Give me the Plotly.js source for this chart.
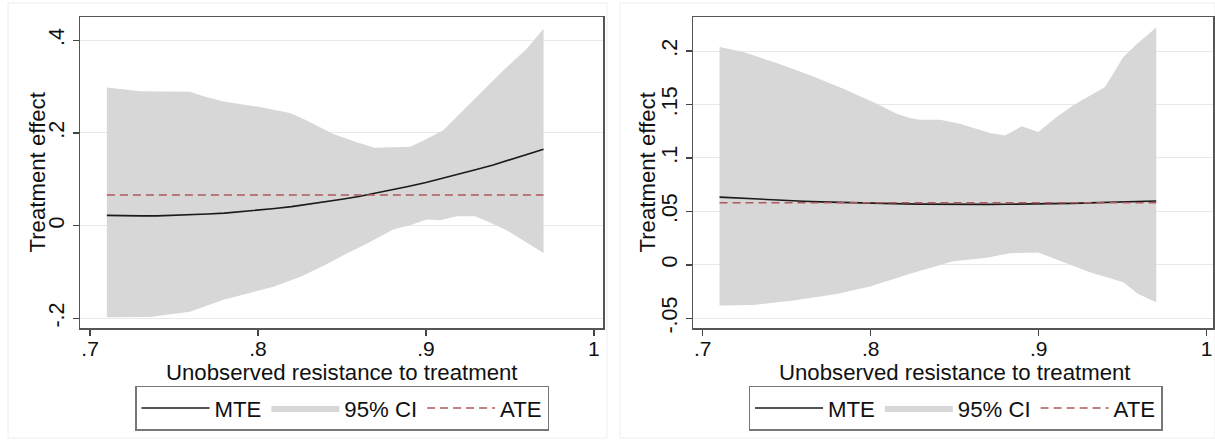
<!DOCTYPE html>
<html>
<head>
<meta charset="utf-8">
<script src="https://cdn.plot.ly/plotly-3.0.1.min.js"></script>
<style>html,body{margin:0;padding:0;background:#fff;}#chart{width:1215px;height:440px;}</style>
</head>
<body>
<div id="chart"></div>
<script>
// ---------- Data ----------
const xTickVals = [0.7, 0.8, 0.9, 1];
const xTickText = ['.7', '.8', '.9', '1'];
const yTickValsL = [-0.2, 0, 0.2, 0.4];
const yTickTextL = ['-.2', '0', '.2', '.4'];
const yTickValsR = [-0.05, 0, 0.05, 0.1, 0.15, 0.2];
const yTickTextR = ['-.05', '0', '.05', '.1', '.15', '.2'];
const xTitle = 'Unobserved resistance to treatment';
const yTitle = 'Treatment effect';

const mteX = [0.71,0.72,0.73,0.74,0.75,0.76,0.77,0.78,0.79,0.80,0.81,0.82,0.83,0.84,0.85,0.86,0.87,0.88,0.89,0.90,0.91,0.92,0.93,0.94,0.95,0.96,0.97];

// Left panel
const mteLeft = [0.022,0.021,0.021,0.021,0.022,0.023,0.025,0.027,0.030,0.033,0.037,0.041,0.046,0.051,0.057,0.063,0.070,0.077,0.085,0.093,0.102,0.111,0.121,0.131,0.142,0.153,0.165];
const ateLeftX = [0.71, 0.97];
const ateLeft = [0.066, 0.066];
const ciUpLeftX = [0.71,0.73,0.7595,0.7675,0.7794,0.8012,0.819,0.829,0.8448,0.8588,0.8696,0.8905,0.8984,0.9103,0.9222,0.9341,0.946,0.960,0.97];
const ciUpLeft  = [0.298,0.290,0.289,0.279,0.268,0.256,0.243,0.227,0.198,0.180,0.168,0.170,0.183,0.206,0.249,0.292,0.335,0.382,0.425];
const ciLoLeftX = [0.71,0.7357,0.7595,0.7794,0.7933,0.8091,0.825,0.8409,0.8528,0.8647,0.8805,0.8905,0.9004,0.9083,0.9183,0.9292,0.9361,0.948,0.960,0.97];
const ciLoLeft  = [-0.198,-0.197,-0.186,-0.160,-0.147,-0.132,-0.111,-0.0835,-0.060,-0.039,-0.0086,0.0006,0.013,0.0114,0.020,0.020,0.010,-0.010,-0.0375,-0.059];

// Right panel
const mteRight = [0.0633,0.0624,0.0616,0.0608,0.0601,0.0595,0.0589,0.0584,0.0580,0.0576,0.0573,0.0570,0.0568,0.0566,0.0565,0.0565,0.0565,0.0566,0.0567,0.0569,0.0572,0.0575,0.0579,0.0583,0.0587,0.0592,0.0597];
const ateRightX = [0.71, 0.97];
const ateRight = [0.058, 0.058];
const ciUpRightX = [0.71,0.7242,0.744,0.7639,0.7837,0.8036,0.8155,0.8234,0.8293,0.8413,0.8532,0.871,0.880,0.8899,0.8998,0.9107,0.9206,0.9305,0.9395,0.9504,0.9583,0.97];
const ciUpRight  = [0.2037,0.199,0.1888,0.1772,0.1648,0.1507,0.1414,0.1373,0.1358,0.1358,0.132,0.1232,0.121,0.1295,0.1242,0.1382,0.1492,0.1585,0.1663,0.1944,0.2063,0.2219];
const ciLoRightX = [0.71,0.7301,0.7539,0.7798,0.7996,0.8234,0.8492,0.869,0.8829,0.8998,0.9127,0.9305,0.9504,0.9593,0.97];
const ciLoRight  = [-0.0381,-0.0375,-0.0334,-0.0272,-0.0203,-0.0084,0.0034,0.0066,0.0109,0.0115,0.004,-0.0069,-0.0163,-0.0272,-0.035];

// ---------- Styling ----------
const FONT = 'Liberation Sans, Arial, Helvetica, sans-serif';
const TXT = '#111111';
const CI_COL = '#d7d7d7';
const MTE_COL = '#1a1a1a';
const ATE_COL = '#ad5a5f';
const TICK_SIZE = 21;
const TITLE_SIZE = 22.2;

function bandPoly(ux, uy, lx, ly) {
  return {
    x: ux.concat(lx.slice().reverse()),
    y: uy.concat(ly.slice().reverse())
  };
}

function panelTraces(suffix, legendId, up, lo, mte, ateX, ate) {
  const poly = bandPoly(up[0], up[1], lo[0], lo[1]);
  return [
    {x: poly.x, y: poly.y, type: 'scatter', mode: 'lines', fill: 'toself',
     fillcolor: CI_COL, line: {width: 0, color: CI_COL}, name: '95% CI',
     xaxis: 'x' + suffix, yaxis: 'y' + suffix, legend: legendId, legendrank: 2, hoverinfo: 'skip'},
    {x: mteX, y: mte, type: 'scatter', mode: 'lines', line: {color: MTE_COL, width: 1.6},
     name: 'MTE', xaxis: 'x' + suffix, yaxis: 'y' + suffix, legend: legendId, legendrank: 1},
    {x: ateX, y: ate, type: 'scatter', mode: 'lines', line: {color: ATE_COL, width: 1.6, dash: '8px,5px'},
     name: 'ATE', xaxis: 'x' + suffix, yaxis: 'y' + suffix, legend: legendId, legendrank: 3}
  ];
}

const data = [].concat(
  panelTraces('', 'legend', [ciUpLeftX, ciUpLeft], [ciLoLeftX, ciLoLeft], mteLeft, ateLeftX, ateLeft),
  panelTraces('2', 'legend2', [ciUpRightX, ciUpRight], [ciLoRightX, ciLoRight], mteRight, ateRightX, ateRight)
);

const W = 1215, H = 440;
const yDom = [1 - 328 / H, 1 - 17 / H];

function xAxis(dom, range, anchor) {
  return {
    domain: dom, range: range, anchor: anchor,
    tickvals: xTickVals, ticktext: xTickText,
    ticks: 'outside', ticklen: 6, tickwidth: 1.5, tickcolor: '#444',
    tickfont: {family: FONT, size: TICK_SIZE, color: TXT}, ticklabelstandoff: -5,
    showline: true, mirror: true, linecolor: '#555', linewidth: 1.5,
    showgrid: false, zeroline: false, fixedrange: true
  };
}
function yAxis(range, tv, tt, anchor) {
  return {
    domain: yDom, range: range, anchor: anchor,
    tickvals: tv, ticktext: tt, tickangle: -90,
    ticks: 'outside', ticklen: 6, tickwidth: 1.5, tickcolor: '#444',
    tickfont: {family: FONT, size: TICK_SIZE + 0.5, color: TXT},
    showline: true, mirror: true, linecolor: '#555', linewidth: 1.5,
    showgrid: true, gridcolor: '#e8e8e8', gridwidth: 1, zeroline: false, fixedrange: true
  };
}

function legendCfg(cx) {
  return {
    orientation: 'h', x: cx, xanchor: 'center', y: 1 - 408 / H, yanchor: 'middle',
    bgcolor: '#ffffff', bordercolor: '#777777', borderwidth: 1.5,
    font: {family: FONT, size: TITLE_SIZE, color: TXT}, itemwidth: 68,
    traceorder: 'normal', itemclick: false, itemdoubleclick: false
  };
}

function titleAnn(text, x, y, angle) {
  return {text: text, xref: 'paper', yref: 'paper', x: x / W, y: 1 - y / H,
          xanchor: 'center', yanchor: 'middle', showarrow: false, textangle: angle,
          font: {family: FONT, size: TITLE_SIZE, color: TXT}};
}

const layout = {
  width: W, height: H,
  margin: {l: 0, r: 0, t: 0, b: 0},
  paper_bgcolor: '#ffffff', plot_bgcolor: '#ffffff',
  font: {family: FONT, color: TXT},
  showlegend: true,
  xaxis: xAxis([80 / W, 603 / W], [0.694, 1.0054], 'y'),
  yaxis: yAxis([-0.221, 0.4503], yTickValsL, yTickTextL, 'x'),
  xaxis2: xAxis([693 / W, 1213 / W], [0.6942, 1.0038], 'y2'),
  yaxis2: yAxis([-0.0591, 0.2318], yTickValsR, yTickTextR, 'x2'),
  legend: legendCfg(342 / W),
  legend2: legendCfg(955.5 / W),
  annotations: [
    titleAnn(xTitle, 341.5, 372, 0),
    titleAnn(xTitle, 954, 372, 0),
    titleAnn(yTitle, 37, 172.5, -90),
    titleAnn(yTitle, 647, 172.5, -90)
  ],
  shapes: [
    {type: 'rect', xref: 'paper', yref: 'paper', x0: 8 / W, x1: 607 / W, y0: 2 / H, y1: 1 - 3 / H,
     line: {color: '#eeeeee', width: 1}, layer: 'below'},
    {type: 'rect', xref: 'paper', yref: 'paper', x0: 620 / W, x1: 1 , y0: 2 / H, y1: 1 - 3 / H,
     line: {color: '#eeeeee', width: 1}, layer: 'below'}
  ]
};

Plotly.newPlot('chart', data, layout, {staticPlot: true, displayModeBar: false});
</script>
</body>
</html>
